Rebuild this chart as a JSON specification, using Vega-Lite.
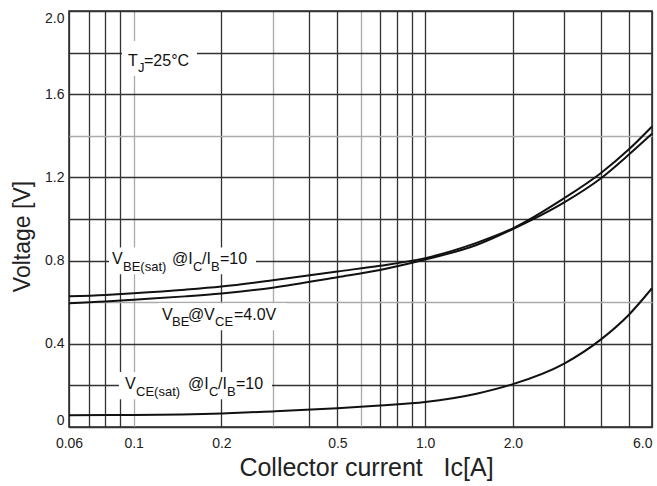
{
  "$schema": "https://vega.github.io/schema/vega-lite/v6.json",
  "width": 583,
  "height": 416,
  "autosize": {"type": "none"},
  "padding": {"left": 69, "top": 11, "right": 5, "bottom": 59},
  "background": "white",
  "config": {
    "view": {"stroke": "#222", "strokeWidth": 1.5},
    "font": "Liberation Sans"
  },
  "datasets": {
    "curves": [
      {"series": "VBEsat", "x": 0.06, "y": 0.628}, {"series": "VBEsat", "x": 0.08, "y": 0.635},
      {"series": "VBEsat", "x": 0.1, "y": 0.643}, {"series": "VBEsat", "x": 0.15, "y": 0.66},
      {"series": "VBEsat", "x": 0.2, "y": 0.675}, {"series": "VBEsat", "x": 0.3, "y": 0.705},
      {"series": "VBEsat", "x": 0.5, "y": 0.748}, {"series": "VBEsat", "x": 0.7, "y": 0.775},
      {"series": "VBEsat", "x": 1.0, "y": 0.812}, {"series": "VBEsat", "x": 1.5, "y": 0.885},
      {"series": "VBEsat", "x": 2.0, "y": 0.955}, {"series": "VBEsat", "x": 3.0, "y": 1.1},
      {"series": "VBEsat", "x": 4.0, "y": 1.22}, {"series": "VBEsat", "x": 5.0, "y": 1.335},
      {"series": "VBEsat", "x": 6.0, "y": 1.445},
      {"series": "VBE", "x": 0.06, "y": 0.595}, {"series": "VBE", "x": 0.08, "y": 0.603},
      {"series": "VBE", "x": 0.1, "y": 0.612}, {"series": "VBE", "x": 0.15, "y": 0.628},
      {"series": "VBE", "x": 0.2, "y": 0.642}, {"series": "VBE", "x": 0.3, "y": 0.67},
      {"series": "VBE", "x": 0.5, "y": 0.72}, {"series": "VBE", "x": 0.7, "y": 0.755},
      {"series": "VBE", "x": 1.0, "y": 0.805}, {"series": "VBE", "x": 1.5, "y": 0.875},
      {"series": "VBE", "x": 2.0, "y": 0.952}, {"series": "VBE", "x": 3.0, "y": 1.08},
      {"series": "VBE", "x": 4.0, "y": 1.195}, {"series": "VBE", "x": 5.0, "y": 1.31},
      {"series": "VBE", "x": 6.0, "y": 1.41},
      {"series": "VCEsat", "x": 0.06, "y": 0.057}, {"series": "VCEsat", "x": 0.1, "y": 0.058},
      {"series": "VCEsat", "x": 0.2, "y": 0.065}, {"series": "VCEsat", "x": 0.3, "y": 0.075},
      {"series": "VCEsat", "x": 0.5, "y": 0.09}, {"series": "VCEsat", "x": 0.7, "y": 0.103},
      {"series": "VCEsat", "x": 1.0, "y": 0.12}, {"series": "VCEsat", "x": 1.5, "y": 0.16},
      {"series": "VCEsat", "x": 2.0, "y": 0.206}, {"series": "VCEsat", "x": 3.0, "y": 0.305},
      {"series": "VCEsat", "x": 4.0, "y": 0.42}, {"series": "VCEsat", "x": 5.0, "y": 0.54},
      {"series": "VCEsat", "x": 6.0, "y": 0.667}
    ],
    "boxes": [
      {"x": 0.0912, "x2": 0.1649, "y": 1.688, "y2": 1.856},
      {"x": 0.0823, "x2": 0.2628, "y": 0.734, "y2": 0.863},
      {"x": 0.1212, "x2": 0.3357, "y": 0.465, "y2": 0.595},
      {"x": 0.089, "x2": 0.2983, "y": 0.134, "y2": 0.264}
    ],
    "mainText": [
      {"x": 0.0956, "y": 1.76, "t": "T"},
      {"x": 0.1085, "y": 1.76, "t": "=25°C"},
      {"x": 0.0843, "y": 0.806, "t": "V"},
      {"x": 0.1354, "y": 0.806, "t": "@I"},
      {"x": 0.1716, "y": 0.806, "t": "/I"},
      {"x": 0.1978, "y": 0.806, "t": "=10"},
      {"x": 0.1251, "y": 0.537, "t": "V"},
      {"x": 0.1536, "y": 0.537, "t": "@"},
      {"x": 0.1743, "y": 0.537, "t": "V"},
      {"x": 0.2209, "y": 0.537, "t": "=4.0V"},
      {"x": 0.0934, "y": 0.206, "t": "V"},
      {"x": 0.1536, "y": 0.206, "t": "@I"},
      {"x": 0.1947, "y": 0.206, "t": "/I"},
      {"x": 0.2244, "y": 0.206, "t": "=10"}
    ],
    "subText": [
      {"x": 0.1035, "y": 1.727, "t": "J"},
      {"x": 0.0919, "y": 0.767, "t": "BE(sat)"},
      {"x": 0.1598, "y": 0.767, "t": "C"},
      {"x": 0.1842, "y": 0.767, "t": "B"},
      {"x": 0.1354, "y": 0.504, "t": "BE"},
      {"x": 0.1901, "y": 0.504, "t": "CE"},
      {"x": 0.1019, "y": 0.168, "t": "CE(sat)"},
      {"x": 0.1813, "y": 0.168, "t": "C"},
      {"x": 0.2091, "y": 0.168, "t": "B"}
    ]
  },
  "encoding": {
    "x": {
      "field": "x", "type": "quantitative",
      "scale": {"type": "log", "domain": [0.06, 6], "nice": false},
      "axis": {
        "values": [0.06, 0.07, 0.08, 0.09, 0.1, 0.2, 0.3, 0.4, 0.5, 0.6, 0.7, 0.8, 0.9, 1, 2, 3, 4, 5, 6],
        "labelExpr": "datum.value == 0.06 ? '0.06' : (indexof([0.1, 0.2, 0.5, 1, 2, 6], datum.value) >= 0 ? format(datum.value, '.1f') : '')",
        "labelOverlap": false,
        "labelFlush": false,
        "labelAlign": {"condition": {"test": "datum.value == 6", "value": "right"}, "value": "center"},
        "labelFont": "Liberation Sans",
        "labelFontSize": 14,
        "labelColor": "#222",
        "labelPadding": 9,
        "ticks": false,
        "domain": false,
        "grid": true,
        "gridColor": {"condition": {"test": "indexof([0.1, 0.3, 0.6], datum.value) >= 0", "value": "#aaa"}, "value": "#333"},
        "gridWidth": 1.3,
        "gridOpacity": 1,
        "title": "Collector current\u00a0\u00a0\u00a0Ic[A]",
        "titleFont": "Liberation Sans",
        "titleFontSize": 25,
        "titleFontWeight": "normal",
        "titleColor": "#222",
        "titleX": 297,
        "titleY": 48,
        "titleAlign": "center",
        "titleBaseline": "alphabetic",
        "titleAnchor": null
      }
    },
    "y": {
      "field": "y", "type": "quantitative",
      "scale": {"domain": [0, 2], "nice": false, "zero": false},
      "axis": {
        "values": [0, 0.2, 0.4, 0.6, 0.8, 1.0, 1.2, 1.4, 1.6, 1.8, 2.0],
        "format": ".1f",
        "labelExpr": "datum.value == 0 ? '0' : (indexof(['0.4', '0.8', '1.2', '1.6', '2.0'], datum.label) >= 0 ? datum.label : '')",
        "labelOverlap": false,
        "labelBaseline": {"condition": [{"test": "datum.value == 0", "value": "bottom"}, {"test": "datum.value == 2", "value": "top"}], "value": "middle"},
        "labelFont": "Liberation Sans",
        "labelFontSize": 14,
        "labelColor": "#222",
        "labelPadding": 5,
        "ticks": false,
        "domain": false,
        "grid": true,
        "gridColor": {"condition": {"test": "datum.value == 0.6 || datum.value == 1.4", "value": "#aaa"}, "value": "#333"},
        "gridWidth": 1.3,
        "gridOpacity": 1,
        "title": "Voltage [V]",
        "titleFont": "Liberation Sans",
        "titleFontSize": 23,
        "titleFontWeight": "normal",
        "titleColor": "#222",
        "titleX": -47,
        "titleY": 225,
        "titleAlign": "center",
        "titleBaseline": "middle",
        "titleAnchor": null
      }
    }
  },
  "layer": [
    {
      "data": {"name": "boxes"},
      "mark": {"type": "rect", "fill": "white", "stroke": null},
      "encoding": {"x2": {"field": "x2"}, "y2": {"field": "y2"}}
    },
    {
      "data": {"name": "curves"},
      "mark": {"type": "line", "interpolate": "monotone", "color": "#111", "strokeWidth": 2},
      "encoding": {"detail": {"field": "series"}}
    },
    {
      "data": {"name": "mainText"},
      "mark": {"type": "text", "align": "left", "baseline": "middle", "font": "Liberation Sans", "fontSize": 16, "color": "#111"},
      "encoding": {"text": {"field": "t"}}
    },
    {
      "data": {"name": "subText"},
      "mark": {"type": "text", "align": "left", "baseline": "middle", "font": "Liberation Sans", "fontSize": 13, "color": "#111"},
      "encoding": {"text": {"field": "t"}}
    }
  ]
}
